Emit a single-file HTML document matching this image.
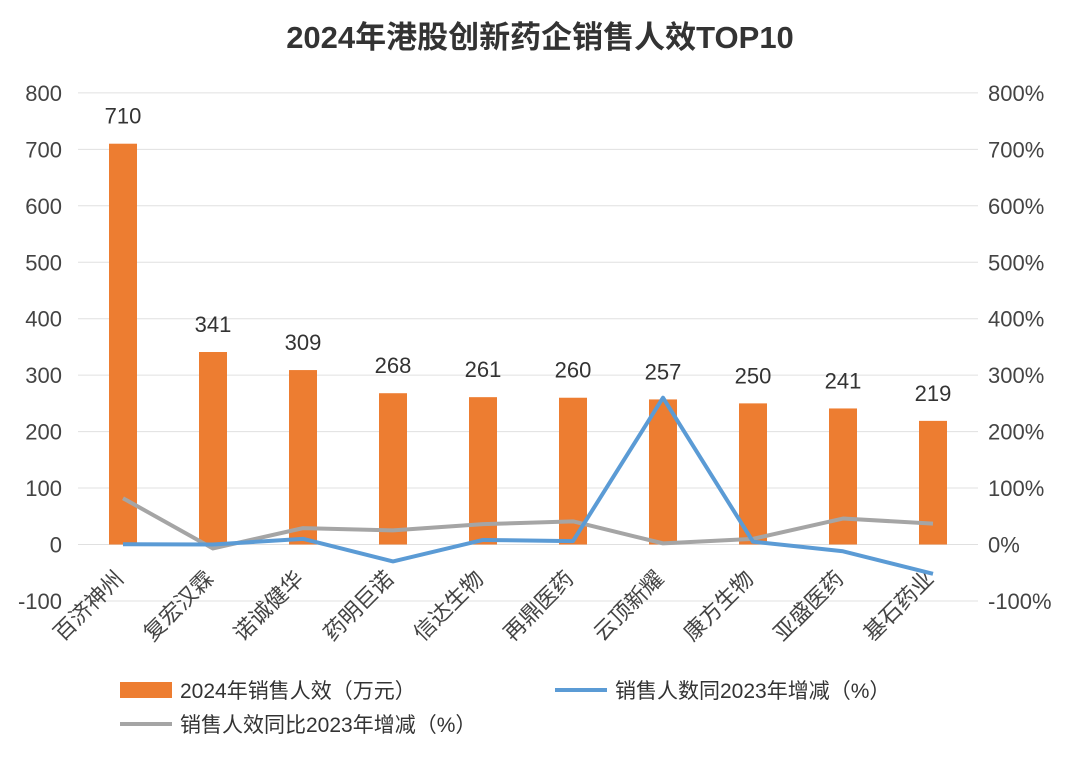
<!DOCTYPE html>
<html><head><meta charset="utf-8"><style>
body{margin:0;background:#fff;}
svg text{font-family:"Liberation Sans","Noto Sans CJK SC",sans-serif;}
</style></head><body>
<svg id="c" width="1080" height="755">
<text x="540" y="48" text-anchor="middle" font-size="31" font-weight="bold" fill="#333">2024年港股创新药企销售人效TOP10</text>
</svg>
<script>
const categories=["百济神州","复宏汉霖","诺诚健华","药明巨诺","信达生物","再鼎医药","云顶新耀","康方生物","亚盛医药","基石药业"];
const barValues=[710,341,309,268,261,260,257,250,241,219];
const headcountChange=[0.5,0,10,-30,8,6,260,5,-12,-52];
const efficiencyChange=[82,-7,29,25,36,41,2,10,46,37];
const leftTicks=[-100,0,100,200,300,400,500,600,700,800];
const rightTicks=["-100%","0%","100%","200%","300%","400%","500%","600%","700%","800%"];
const svg=document.getElementById('c');const NS='http://www.w3.org/2000/svg';
function mk(t,a,txt){const e=document.createElementNS(NS,t);for(const k in a)e.setAttribute(k,a[k]);if(txt!=null)e.textContent=txt;svg.appendChild(e);return e;}
const y=v=>544.5-(v/100)*56.45;
const x=i=>123+i*90;
leftTicks.forEach((t,i)=>{
 const g=mk('line',{x1:78,x2:978,y1:y(t),y2:y(t),stroke:'#e0e0e0','stroke-width':1});
 
 
 const l=mk('text',{x:62,y:y(t)+8,'text-anchor':'end','font-size':22,fill:'#444'},t);
 
 
 const r=mk('text',{x:988,y:y(t)+8,'font-size':22,fill:'#444'},rightTicks[i]);
 
 
});
barValues.forEach((v,i)=>{
 const b=mk('rect',{x:x(i)-14,y:y(v),width:28,height:y(0)-y(v),fill:'#ED7D31'});
 
 
 const l=mk('text',{x:x(i),y:y(v)-20,'text-anchor':'middle','font-size':22,fill:'#333'},v);
 
 
 const c=mk('text',{transform:`translate(${x(i)+2},${580}) rotate(-45)`,'text-anchor':'end','font-size':22,fill:'#444'},categories[i]);
 
 
});
const gl=mk('polyline',{points:efficiencyChange.map((v,i)=>x(i)+','+y(v)).join(' '),fill:'none',stroke:'#A5A5A5','stroke-width':4,'stroke-linejoin':'round'});


const bl=mk('polyline',{points:headcountChange.map((v,i)=>x(i)+','+y(v)).join(' '),fill:'none',stroke:'#5B9BD5','stroke-width':4,'stroke-linejoin':'round'});


const lg1=mk('rect',{x:120,y:682,width:52,height:16,fill:'#ED7D31'});


const lt1=mk('text',{x:180,y:698,'font-size':21,fill:'#333'},'2024年销售人效（万元）');


const lg2=mk('line',{x1:555,x2:607,y1:690,y2:690,stroke:'#5B9BD5','stroke-width':4});


const lt2=mk('text',{x:615,y:698,'font-size':21,fill:'#333'},'销售人数同2023年增减（%）');


const lg3=mk('line',{x1:120,x2:172,y1:724,y2:724,stroke:'#A5A5A5','stroke-width':4});


const lt3=mk('text',{x:180,y:732,'font-size':21,fill:'#333'},'销售人效同比2023年增减（%）');


</script>
</body></html>
